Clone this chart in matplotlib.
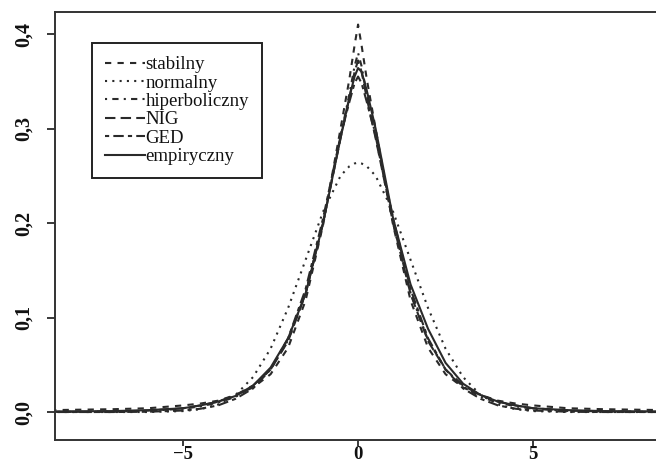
import matplotlib
matplotlib.use('Agg')
import matplotlib.pyplot as plt

x = [-8.8, -7, -6, -5, -4.5, -4, -3.5, -3, -2.5, -2, -1.5, -1, -0.5, -0.25, -0.1,
     0, 0.1, 0.25, 0.5, 1, 1.5, 2, 2.5, 3, 3.5, 4, 4.5, 5, 6, 7, 8.8]

stabilny = [0.002, 0.003, 0.004, 0.007, 0.009, 0.012, 0.018, 0.026, 0.040, 0.068, 0.118, 0.198,
            0.300, 0.352, 0.388, 0.410, 0.388, 0.352, 0.300, 0.198, 0.118, 0.068, 0.040, 0.026,
            0.018, 0.012, 0.009, 0.007, 0.004, 0.003, 0.002]
normalny = [0.0, 0.0, 0.0, 0.001, 0.003, 0.008, 0.018, 0.037, 0.067, 0.110, 0.161, 0.212,
            0.250, 0.260, 0.263, 0.264, 0.263, 0.260, 0.250, 0.212, 0.161, 0.110, 0.067, 0.037,
            0.018, 0.008, 0.003, 0.001, 0.0, 0.0, 0.0]
hiperboliczny = [0.0001, 0.0004, 0.0012, 0.0035, 0.006, 0.010, 0.016, 0.027, 0.045, 0.076, 0.126, 0.200,
                 0.292, 0.336, 0.366, 0.380, 0.366, 0.336, 0.292, 0.200, 0.126, 0.076, 0.045, 0.027,
                 0.016, 0.010, 0.006, 0.0035, 0.0012, 0.0004, 0.0001]
nig = [0.0002, 0.0006, 0.0015, 0.004, 0.007, 0.011, 0.018, 0.028, 0.045, 0.075, 0.125, 0.200,
       0.290, 0.332, 0.360, 0.372, 0.360, 0.332, 0.290, 0.200, 0.125, 0.075, 0.045, 0.028,
       0.018, 0.011, 0.007, 0.004, 0.0015, 0.0006, 0.0002]
ged = [0.0, 0.0, 0.0003, 0.0016, 0.0035, 0.007, 0.014, 0.025, 0.045, 0.078, 0.130, 0.205,
       0.292, 0.328, 0.348, 0.355, 0.348, 0.328, 0.292, 0.205, 0.130, 0.078, 0.045, 0.025,
       0.014, 0.007, 0.0035, 0.0016, 0.0003, 0.0, 0.0]
empiryczny = [0.0005, 0.001, 0.002, 0.004, 0.007, 0.011, 0.017, 0.028, 0.047, 0.078, 0.125, 0.200,
              0.290, 0.333, 0.355, 0.364, 0.360, 0.340, 0.300, 0.205, 0.135, 0.088, 0.052, 0.030,
              0.018, 0.011, 0.007, 0.004, 0.002, 0.001, 0.0005]

names = ['stabilny', 'normalny', 'hiperboliczny', 'NIG', 'GED', 'empiryczny']
series = [stabilny, normalny, hiperboliczny, nig, ged, empiryczny]
# R line types 2..6 and 1
styles = [(0, (3, 3)), (0, (1, 2.5)), (0, (1, 2.5, 3, 2.5)), (0, (5, 2.5)), (0, (2, 2, 5, 2)), '-']

plt.rcParams['font.family'] = ['Liberation Serif', 'DejaVu Serif']

fig = plt.figure(figsize=(6.56, 4.67), dpi=100)
ax = fig.add_axes([55 / 656, 27 / 467, 610 / 656, 428 / 467])

col = '#2a2a2a'
for name, y, ls in zip(names, series, styles):
    ax.plot(x, y, color=col, lw=1.5, linestyle=ls, label=name)

ax.set_xlim(-8.66, 8.77)
ax.set_ylim(-0.0296, 0.4233)
ax.set_xticks([-5, 0, 5])
ax.set_xticklabels(['\u22125', '0', '5'])
ax.set_yticks([0.0, 0.1, 0.2, 0.3, 0.4])
ax.set_yticklabels(['0,0', '0,1', '0,2', '0,3', '0,4'], rotation=90, va='center')
ax.tick_params(axis='both', labelsize=14.5, length=6, width=1.3, color=col, labelcolor='#111111')
ax.tick_params(axis='x', labelsize=13.5, length=4, pad=0)
ax.tick_params(axis='y', pad=9)
for lab in ax.get_xticklabels() + ax.get_yticklabels():
    lab.set_fontweight('bold')
for s in ax.spines.values():
    s.set_color('#333333')
    s.set_linewidth(1.4)

leg = ax.legend(loc='upper left', bbox_to_anchor=(0.061, 0.928), fontsize=13.5,
                frameon=True, fancybox=False, edgecolor='#222222', framealpha=1,
                handlelength=2.1, handletextpad=0.05, labelspacing=0.07,
                borderpad=0.7, borderaxespad=0)
leg.get_frame().set_linewidth(1.4)
for t in leg.get_texts():
    t.set_color('#111111')

fig.savefig('out.png', dpi=100)
